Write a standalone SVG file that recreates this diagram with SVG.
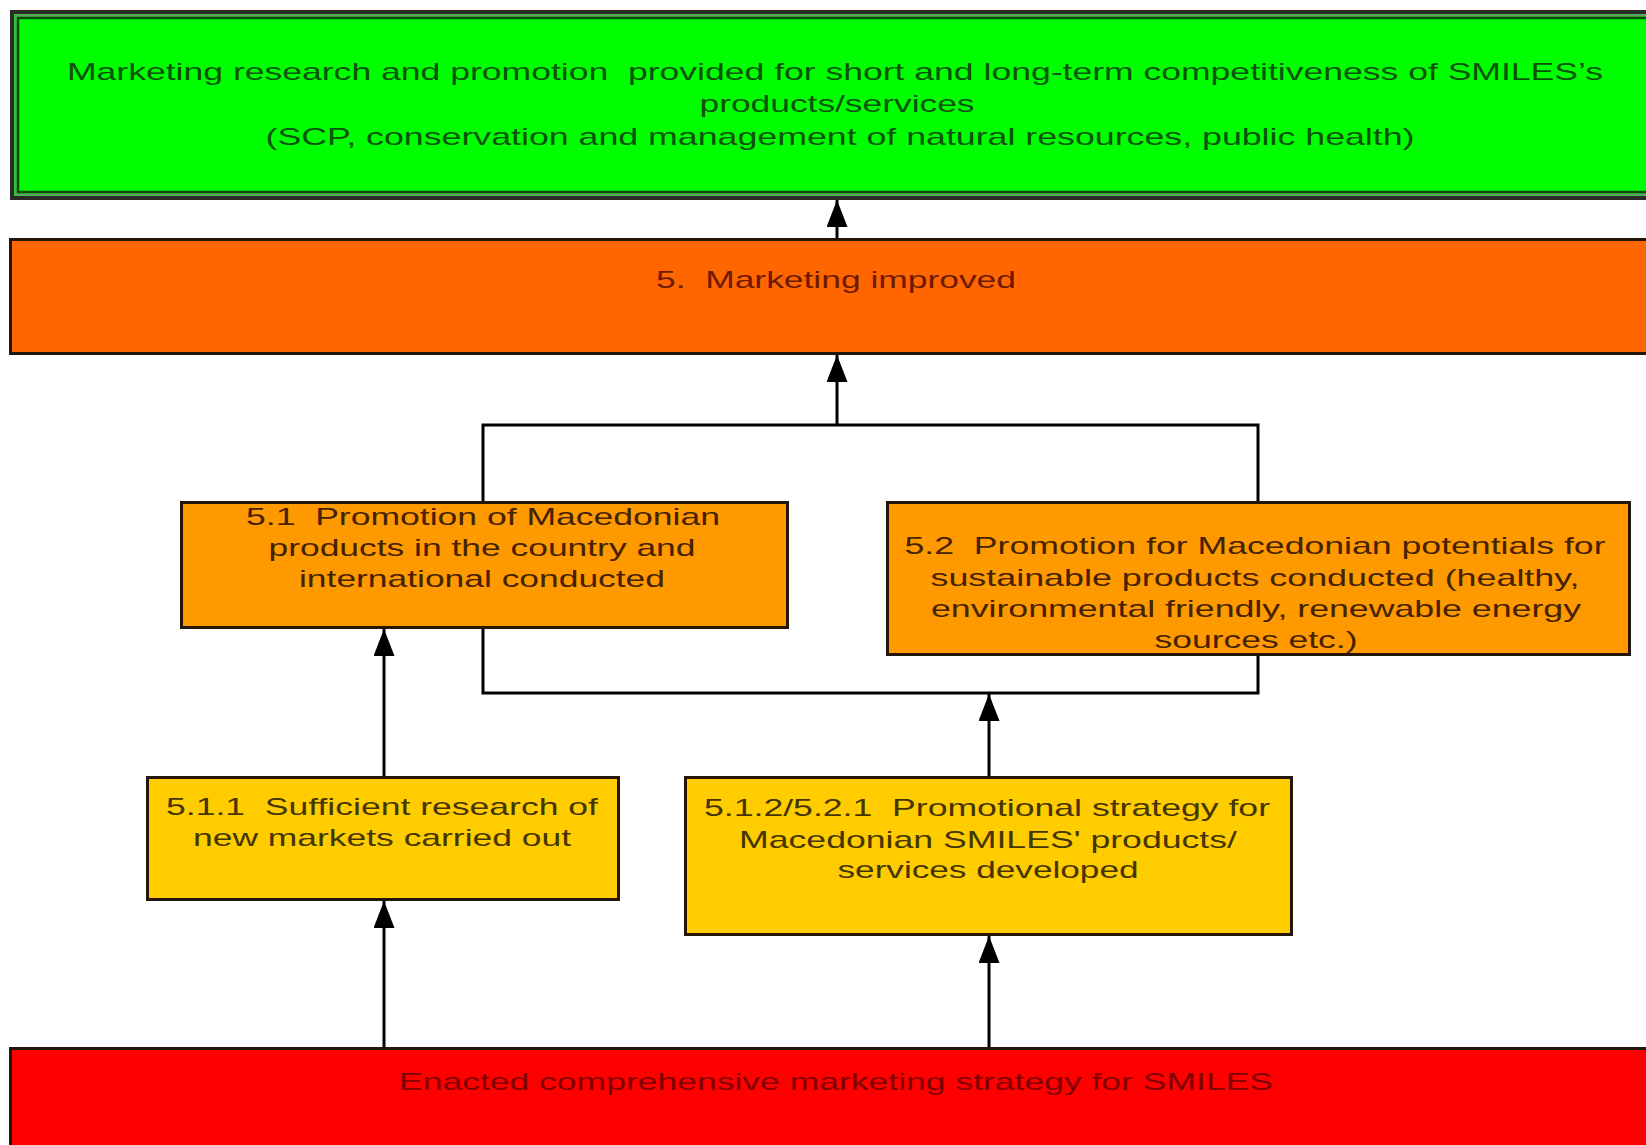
<svg xmlns="http://www.w3.org/2000/svg" width="1646" height="1145" viewBox="0 0 1646 1145">
<defs>
<marker id="ah" markerUnits="userSpaceOnUse" markerWidth="27" markerHeight="21" refX="27" refY="10.5" orient="auto">
<path d="M0,0 L27,10.5 L0,21 z" fill="#000"/>
</marker>
<style>
text{font-family:"Liberation Sans",Arial,sans-serif;font-size:24px;text-anchor:middle;white-space:pre}
.box{stroke:#24160a;stroke-width:3}
.con{stroke:#000;stroke-width:3;fill:none}
.arr{stroke:#000;stroke-width:3;fill:none;marker-end:url(#ah)}
.tg{fill:#0b520b}
.to{fill:#6e1a00}
.tm{fill:#452200}
.ty{fill:#453500}
.tr{fill:#800000}
</style>
</defs>
<rect width="1646" height="1145" fill="#fff"/>
<g id="connectors">
<rect class="con" x="483" y="425" width="775" height="268"/>
<line class="arr" x1="837" y1="239" x2="837" y2="200"/>
<line class="arr" x1="837" y1="425" x2="837" y2="355"/>
<line class="arr" x1="384" y1="777" x2="384" y2="629"/>
<line class="arr" x1="989" y1="777" x2="989" y2="694"/>
<line class="arr" x1="384" y1="1048" x2="384" y2="901"/>
<line class="arr" x1="989" y1="1048" x2="989" y2="936"/>
</g>
<g id="goal">
<rect x="12" y="12" width="1700" height="186" fill="#00ff00" stroke="#2a2a2a" stroke-width="4"/>
<rect x="15.5" y="15.5" width="1700" height="179" fill="none" stroke="#7a8a7a" stroke-width="2"/>
<rect x="18" y="18" width="1700" height="174" fill="none" stroke="#0a4a0a" stroke-width="2.5"/>
<text class="tg" x="835" y="80" textLength="1536" lengthAdjust="spacingAndGlyphs">Marketing research and promotion  provided for short and long-term competitiveness of SMILES’s</text>
<text class="tg" x="837" y="112" textLength="275" lengthAdjust="spacingAndGlyphs">products/services</text>
<text class="tg" x="840" y="145" textLength="1149" lengthAdjust="spacingAndGlyphs">(SCP, conservation and management of natural resources, public health)</text>
</g>
<g id="n5">
<rect class="box" x="10.5" y="239.5" width="1700" height="114" fill="#ff6600"/>
<text class="to" x="836" y="288" textLength="360" lengthAdjust="spacingAndGlyphs">5.  Marketing improved</text>
</g>
<g id="n51">
<rect class="box" x="181.5" y="502.5" width="606" height="125" fill="#ff9900"/>
<text class="tm" x="483" y="525" textLength="474" lengthAdjust="spacingAndGlyphs">5.1  Promotion of Macedonian</text>
<text class="tm" x="482" y="556" textLength="427" lengthAdjust="spacingAndGlyphs">products in the country and</text>
<text class="tm" x="482" y="587" textLength="366" lengthAdjust="spacingAndGlyphs">international conducted</text>
</g>
<g id="n52">
<rect class="box" x="887.5" y="502.5" width="742" height="152" fill="#ff9900"/>
<text class="tm" x="1255" y="554" textLength="701" lengthAdjust="spacingAndGlyphs">5.2  Promotion for Macedonian potentials for</text>
<text class="tm" x="1255" y="586" textLength="649" lengthAdjust="spacingAndGlyphs">sustainable products conducted (healthy,</text>
<text class="tm" x="1256" y="617" textLength="650" lengthAdjust="spacingAndGlyphs">environmental friendly, renewable energy</text>
<text class="tm" x="1256" y="648" textLength="203" lengthAdjust="spacingAndGlyphs">sources etc.)</text>
</g>
<g id="n511">
<rect class="box" x="147.5" y="777.5" width="471" height="122" fill="#ffcc00"/>
<text class="ty" x="382" y="815" textLength="432" lengthAdjust="spacingAndGlyphs">5.1.1  Sufficient research of</text>
<text class="ty" x="382" y="846" textLength="378" lengthAdjust="spacingAndGlyphs">new markets carried out</text>
</g>
<g id="n512">
<rect class="box" x="685.5" y="777.5" width="606" height="157" fill="#ffcc00"/>
<text class="ty" x="987" y="816" textLength="566" lengthAdjust="spacingAndGlyphs">5.1.2/5.2.1  Promotional strategy for</text>
<text class="ty" x="988" y="848" textLength="498" lengthAdjust="spacingAndGlyphs">Macedonian SMILES' products/</text>
<text class="ty" x="988" y="878" textLength="301" lengthAdjust="spacingAndGlyphs">services developed</text>
</g>
<g id="base">
<rect class="box" x="10.5" y="1048.5" width="1700" height="120" fill="#ff0000"/>
<text class="tr" x="836" y="1090" textLength="874" lengthAdjust="spacingAndGlyphs">Enacted comprehensive marketing strategy for SMILES</text>
</g>
</svg>
